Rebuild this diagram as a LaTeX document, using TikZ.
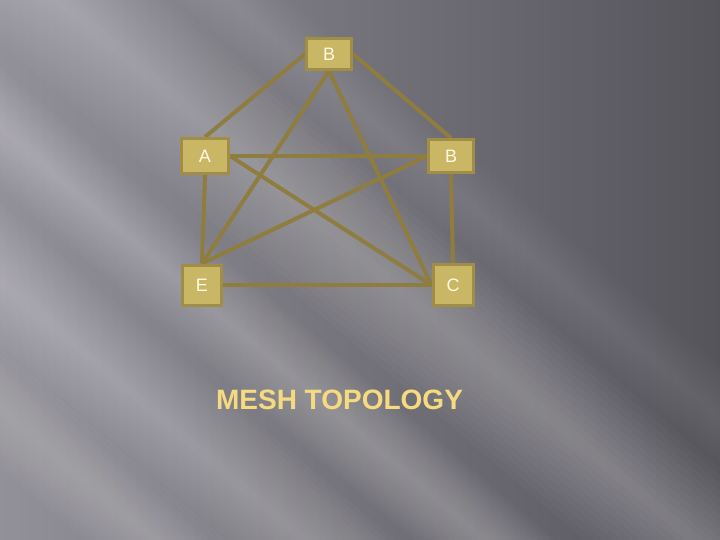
\documentclass[tikz,border=0pt]{standalone}
\usepackage{fontspec}
\setmainfont{Liberation Sans}
\definecolor{bgL}{RGB}{146,144,152}
\definecolor{bgR}{RGB}{86,84,91}
\definecolor{boxfill}{RGB}{201,183,101}
\definecolor{boxline}{RGB}{160,141,70}
\definecolor{edgecol}{RGB}{142,125,62}
\definecolor{labelcol}{RGB}{255,250,225}
\definecolor{titlecol}{RGB}{246,218,128}
\tikzset{
  netbox/.style={draw=boxline, line width=3pt, fill=boxfill, inner sep=0pt,
    text=labelcol, font=\fontsize{18}{20}\selectfont},
  link/.style={draw=edgecol, line width=4pt}
}
\begin{document}
\begin{tikzpicture}[x=1pt,y=-1pt]
\useasboundingbox (0,0) rectangle (720,540);
% background
\shade[left color=bgL, right color=bgR] (0,0) rectangle (720,540);
\begin{scope}
\clip (0,0) rectangle (720,540);
\foreach \xo/\hw/\op in {-330/90/0.022, -150/70/0.022, 60/110/0.022, 230/60/0.012, -480/70/0.02} {
  \foreach \k in {1,...,12} {
    \pgfmathsetmacro{\hh}{\hw*\k/12}
    \fill[white, opacity=\op] (\xo-\hh,0) -- (\xo+\hh,0) -- (\xo+\hh+635,540) -- (\xo-\hh+635,540) -- cycle;
  }
}
\end{scope}
% nodes
\node[netbox, minimum width=45pt, minimum height=31pt] (Bt) at (329,54) {};
\node[netbox, minimum width=47pt, minimum height=35pt] (A) at (205,156) {};
\node[netbox, minimum width=45pt, minimum height=33pt] (B) at (451,156) {};
\node[netbox, minimum width=39pt, minimum height=40pt] (E) at (202,285) {};
\node[netbox, minimum width=40pt, minimum height=41pt] (C) at (453,285) {};
% links
\draw[link] (Bt.west) -- (A.north);
\draw[link] (Bt.east) -- (B.north);
\draw[link] (Bt.south) -- (E.north);
\draw[link] (Bt.south) -- (C.west);
\draw[link] (A.east) -- (B.west);
\draw[link] (A.south) -- (E.north);
\draw[link] (A.east) -- (C.west);
\draw[link] (E.north) -- (B.west);
\draw[link] (E.east) -- (C.west);
\draw[link] (B.south) -- (C.north);
% boxes on top of links
\node[netbox, minimum width=45pt, minimum height=31pt] (Btl) at (Bt) {B};
\node[netbox, minimum width=47pt, minimum height=35pt] (Al) at (A) {A};
\node[netbox, minimum width=45pt, minimum height=33pt] (Bl) at (B) {B};
\node[netbox, minimum width=39pt, minimum height=40pt] (El) at (E) {E};
\node[netbox, minimum width=40pt, minimum height=41pt] (Cl) at (C) {C};
% title
\node[text=titlecol, anchor=base, inner sep=0pt, font=\fontsize{28}{30}\selectfont\bfseries] (title) at (339.5,409) {MESH TOPOLOGY};
\end{tikzpicture}
\end{document}
